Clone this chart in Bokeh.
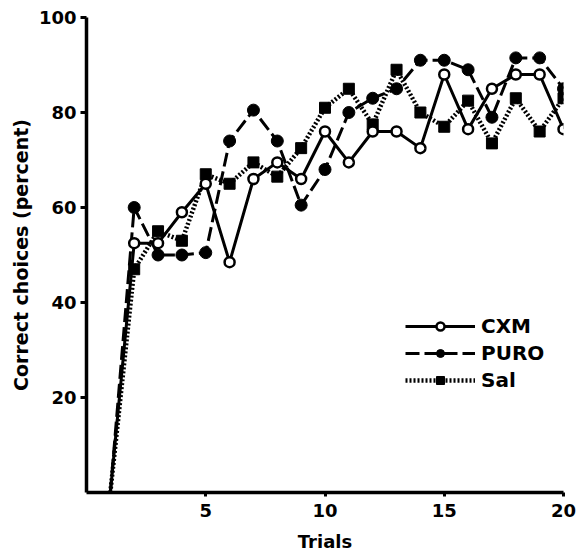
from bokeh.plotting import figure
from bokeh.models import Range1d, Legend, LegendItem, FixedTicker
from bokeh.embed import file_html
from bokeh.resources import INLINE

# ---- data ----
trials = list(range(1, 21))
cxm  = [0, 52.5, 52.5, 59, 65, 48.5, 66, 69.5, 66, 76, 69.5, 76, 76, 72.5, 88, 76.5, 85, 88, 88, 76.5]
puro = [0, 60, 50, 50, 50.5, 74, 80.5, 74, 60.5, 68, 80, 83, 85, 91, 91, 89, 79, 91.5, 91.5, 85]
sal  = [0, 47, 55, 53, 67, 65, 69.5, 66.5, 72.5, 81, 85, 77.5, 89, 80, 77, 82.5, 73.5, 83, 76, 83]
x_ticks = [5, 10, 15, 20]
y_ticks = [20, 40, 60, 80, 100]
series_names = ["CXM", "PURO", "Sal"]

FONT = "DejaVu Sans"

p = figure(frame_width=477, frame_height=475,
           min_border_left=86, min_border_right=25, min_border_top=17, min_border_bottom=63,
           x_range=Range1d(0, 20), y_range=Range1d(0, 100),
           output_backend="svg", toolbar_location=None)
p.outline_line_color = None
p.grid.visible = False
p.background_fill_color = "white"
p.border_fill_color = "white"

# axes
for ax in (p.xaxis[0], p.yaxis[0]):
    ax.axis_line_width = 3.5
    ax.axis_line_color = "black"
    ax.major_tick_line_width = 3
    ax.major_tick_line_color = "black"
    ax.minor_tick_line_color = None
    ax.major_tick_in = 0
    ax.major_label_text_font = FONT
    ax.major_label_text_font_style = "bold"
    ax.major_label_text_font_size = "18px"
    ax.major_label_text_color = "black"
    ax.axis_label_text_font = FONT
    ax.axis_label_text_font_style = "bold"
    ax.axis_label_text_color = "black"

p.xaxis.ticker = FixedTicker(ticks=x_ticks)
p.yaxis.ticker = FixedTicker(ticks=y_ticks)
p.xaxis.major_tick_out = 4
p.xaxis.major_label_standoff = 7
p.xaxis.axis_label = "Trials"
p.xaxis.axis_label_text_font_size = "18px"
p.xaxis.axis_label_standoff = 11
p.yaxis.major_tick_out = 6
p.yaxis.major_label_standoff = 4
p.yaxis.axis_label = "Correct choices (percent)"
p.yaxis.axis_label_text_font_size = "19px"
p.yaxis.axis_label_standoff = 4

# series
sal_line = p.line(trials, sal, line_color="black", line_width=4.5, line_dash="2 2")
sal_pts = p.scatter(trials[1:], sal[1:], marker="square", size=11, fill_color="black", line_color="black")

puro_line = p.line(trials, puro, line_color="black", line_width=3, line_dash="14 5")
puro_pts = p.scatter(trials[1:], puro[1:], marker="circle", size=12, fill_color="black", line_color="black")

cxm_line = p.line(trials, cxm, line_color="black", line_width=3)
cxm_pts = p.scatter(trials[1:], cxm[1:], marker="circle", size=10, fill_color="white",
                    line_color="black", line_width=2.5)

legend = Legend(items=[
    LegendItem(label=series_names[0], renderers=[cxm_line, cxm_pts]),
    LegendItem(label=series_names[1], renderers=[puro_line, puro_pts]),
    LegendItem(label=series_names[2], renderers=[sal_line, sal_pts]),
], location=(319, 100))
legend.glyph_width = 70
legend.glyph_height = 20
legend.label_height = 20
legend.spacing = 3
legend.padding = 0
legend.margin = 0
legend.label_standoff = 6
legend.border_line_color = None
legend.background_fill_alpha = 0
legend.label_text_font = FONT
legend.label_text_font_style = "bold"
legend.label_text_font_size = "20px"
legend.label_text_color = "black"
p.add_layout(legend)

open("out.html", "w").write(file_html(p, INLINE))
